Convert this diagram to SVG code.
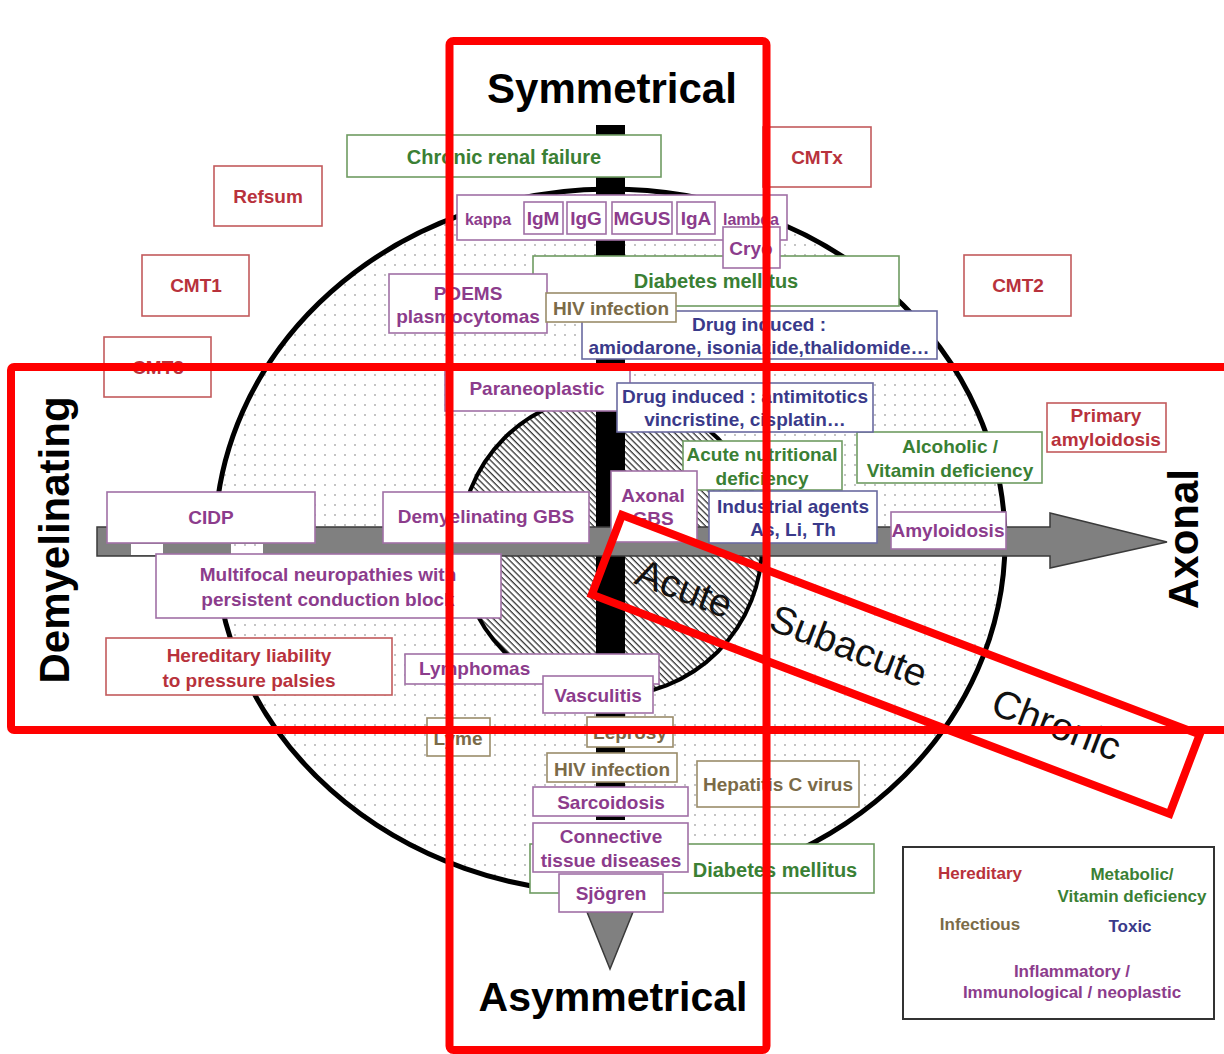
<svg xmlns="http://www.w3.org/2000/svg" width="1224" height="1054" viewBox="0 0 1224 1054">
<defs>
<pattern id="dots" patternUnits="userSpaceOnUse" width="10" height="10">
<circle cx="5" cy="5" r="0.9" fill="#a8a8a8"/>
</pattern>
<pattern id="hatch" patternUnits="userSpaceOnUse" width="4.4" height="4.4" patternTransform="rotate(45)">
<rect x="0" y="0" width="4.4" height="1.3" fill="#333"/>
</pattern>
<style>
text{font-family:"Liberation Sans",Arial,sans-serif;font-weight:bold;text-anchor:middle}
.b{fill:#fff;stroke-width:1.6}
.her rect{stroke:#c25a5c}.her text{fill:#b8323c}
.met rect{stroke:#6f9c62}.met text{fill:#3a8034}
.inf rect{stroke:#9a8c6a}.inf text{fill:#7b6b48}
.tox rect{stroke:#6a6aa0}.tox text{fill:#3a3a8a}
.inm rect{stroke:#a070a6}.inm text{fill:#8c3c8c}
.f19{font-size:19px}.f20{font-size:20px}.f17{font-size:17px}
.big{font-size:42px;fill:#000}
.phase{font-weight:normal;font-size:39px;fill:#111;text-anchor:start}
.red{fill:none;stroke:#ff0000;stroke-width:8}
</style>
</defs>
<rect width="1224" height="1054" fill="#fff"/>
<g id="background">
<ellipse cx="610" cy="541" rx="395" ry="352" fill="#fff"/>
<ellipse cx="610" cy="541" rx="395" ry="352" fill="url(#dots)" stroke="#000" stroke-width="5"/>
<circle cx="611" cy="545" r="151" fill="#fff"/>
<circle cx="611" cy="545" r="151" fill="url(#hatch)" stroke="#000" stroke-width="4"/>
</g>
<g id="connectors">
<rect x="596" y="125" width="29" height="695" fill="#000"/>
<polygon points="97,527 1050,527 1050,513 1167,542 1050,568 1050,556 97,556" fill="#808080" stroke="#3a3a3a" stroke-width="1.5"/>
<polygon points="587,912 633,912 610,969" fill="#808080" stroke="#3a3a3a" stroke-width="1.5"/>
<rect x="131" y="544" width="32" height="11" fill="#fff"/>
<rect x="231" y="544" width="32" height="11" fill="#fff"/>
<rect x="231" y="544" width="32" height="11" fill="url(#dots)"/>
</g>
<g id="axes-labels">
<text class="big" x="612" y="103">Symmetrical</text>
<text class="big" x="613" y="1011" style="font-size:41px">Asymmetrical</text>
<text class="big" transform="translate(69,540) rotate(-90)">Demyelinating</text>
<text class="big" transform="translate(1198,539) rotate(-90)">Axonal</text>
</g>
<g id="n-diabetes-top" class="met"><rect class="b" x="533" y="256" width="366" height="50"/><text class="f20" x="716" y="288">Diabetes mellitus</text></g>
<g id="n-diabetes-bottom" class="met"><rect class="b" x="530" y="844" width="344" height="49"/><text class="f20" x="775" y="877">Diabetes mellitus</text></g>
<g id="n-refsum" class="her"><rect class="b" x="214" y="166" width="108" height="60"/><text class="f19" x="268" y="203">Refsum</text></g>
<g id="n-cmt1" class="her"><rect class="b" x="142" y="255" width="107" height="61"/><text class="f19" x="196" y="292">CMT1</text></g>
<g id="n-cmt3" class="her"><rect class="b" x="104" y="337" width="107" height="60"/><text class="f19" x="158" y="374">CMT3</text></g>
<g id="n-cmtx" class="her"><rect class="b" x="763" y="127" width="108" height="60"/><text class="f19" x="817" y="164">CMTx</text></g>
<g id="n-cmt2" class="her"><rect class="b" x="964" y="255" width="107" height="61"/><text class="f19" x="1018" y="292">CMT2</text></g>
<g id="n-primary-amyloidosis" class="her"><rect class="b" x="1047" y="403" width="119" height="49"/><text class="f19" x="1106" y="422">Primary</text><text class="f19" x="1106" y="446">amyloidosis</text></g>
<g id="n-hnpp" class="her"><rect class="b" x="106" y="638" width="286" height="57"/><text class="f19" x="249" y="662">Hereditary liability</text><text class="f19" x="249" y="687">to pressure palsies</text></g>
<g id="n-renal" class="met"><rect class="b" x="347" y="135" width="314" height="42"/><text class="f20" x="504" y="164">Chronic renal failure</text></g>
<g id="n-nutritional" class="met"><rect class="b" x="683" y="441" width="159" height="49"/><text class="f19" x="762" y="461">Acute nutritional</text><text class="f19" x="762" y="485">deficiency</text></g>
<g id="n-alcoholic" class="met"><rect class="b" x="857" y="432" width="185" height="51"/><text class="f19" x="950" y="453">Alcoholic /</text><text class="f19" x="950" y="477">Vitamin deficiency</text></g>
<g id="n-kappa" class="inm">
<rect class="b" x="457" y="195" width="330" height="45"/>
<rect class="b" x="524" y="202" width="39" height="32"/>
<rect class="b" x="567" y="202" width="39" height="32"/>
<rect class="b" x="612" y="202" width="60" height="32"/>
<rect class="b" x="677" y="202" width="38" height="32"/>
<text class="f17" x="488" y="225" style="font-size:16px">kappa</text>
<text class="f19" x="543" y="225">IgM</text>
<text class="f19" x="586" y="225">IgG</text>
<text class="f19" x="642" y="225">MGUS</text>
<text class="f19" x="696" y="225">IgA</text>
<text class="f17" x="751" y="225" style="font-size:16px">lambda</text>
</g>
<g id="n-cryo" class="inm"><rect class="b" x="723" y="227" width="57" height="41"/><text class="f19" x="751" y="255">Cryo</text></g>
<g id="n-poems" class="inm"><rect class="b" x="389" y="274" width="158" height="59"/><text class="f19" x="468" y="300">POEMS</text><text class="f19" x="468" y="323">plasmocytomas</text></g>
<g id="n-drug-amio" class="tox"><rect class="b" x="582" y="311" width="355" height="48"/><text class="f19" x="759" y="331">Drug induced :</text><text class="f19" x="759" y="354">amiodarone, isoniazide,thalidomide…</text></g>
<g id="n-hiv-top" class="inf"><rect class="b" x="546" y="293" width="130" height="29"/><text class="f19" x="611" y="315">HIV infection</text></g>
<g id="n-paraneoplastic" class="inm"><rect class="b" x="445" y="369" width="185" height="42"/><text class="f19" x="537" y="395">Paraneoplastic</text></g>
<g id="n-drug-antimitotics" class="tox"><rect class="b" x="617" y="383" width="256" height="49"/><text class="f19" x="745" y="403">Drug induced : antimitotics</text><text class="f19" x="745" y="426">vincristine, cisplatin…</text></g>
<g id="n-axonal-gbs" class="inm"><rect class="b" x="611" y="471" width="86" height="71"/><text class="f19" x="653" y="502">Axonal</text><text class="f19" x="653" y="525">GBS</text></g>
<g id="n-industrial" class="tox"><rect class="b" x="709" y="491" width="168" height="52"/><text class="f19" x="793" y="513">Industrial agents</text><text class="f19" x="793" y="536">As, Li, Th</text></g>
<g id="n-cidp" class="inm"><rect class="b" x="107" y="492" width="208" height="51"/><text class="f19" x="211" y="524">CIDP</text></g>
<g id="n-demyel-gbs" class="inm"><rect class="b" x="383" y="492" width="206" height="51"/><text class="f19" x="486" y="523">Demyelinating GBS</text></g>
<g id="n-amyloidosis" class="inm"><rect class="b" x="891" y="512" width="115" height="37"/><text class="f19" x="948" y="537">Amyloidosis</text></g>
<g id="n-multifocal" class="inm"><rect class="b" x="156" y="554" width="345" height="64"/><text class="f19" x="328" y="581">Multifocal neuropathies with</text><text class="f19" x="328" y="606">persistent conduction block</text></g>
<g id="n-lymphomas" class="inm"><rect class="b" x="405" y="654" width="254" height="30"/><text class="f19" x="419" y="675" style="text-anchor:start">Lymphomas</text></g>
<g id="n-vasculitis" class="inm"><rect class="b" x="543" y="676" width="110" height="37"/><text class="f19" x="598" y="702">Vasculitis</text></g>
<g id="n-lyme" class="inf"><rect class="b" x="427" y="718" width="63" height="38"/><text class="f19" x="458" y="745">Lyme</text></g>
<g id="n-leprosy" class="inf"><rect class="b" x="587" y="717" width="86" height="30"/><text class="f19" x="630" y="739">Leprosy</text></g>
<g id="n-hiv-bottom" class="inf"><rect class="b" x="547" y="753" width="130" height="29"/><text class="f19" x="612" y="776">HIV infection</text></g>
<g id="n-hepatitis" class="inf"><rect class="b" x="697" y="761" width="162" height="46"/><text class="f19" x="778" y="791">Hepatitis C virus</text></g>
<g id="n-sarcoidosis" class="inm"><rect class="b" x="533" y="787" width="155" height="29"/><text class="f19" x="611" y="809">Sarcoidosis</text></g>
<g id="n-connective" class="inm"><rect class="b" x="533" y="823" width="155" height="49"/><text class="f19" x="611" y="843">Connective</text><text class="f19" x="611" y="867">tissue diseases</text></g>
<g id="n-sjogren" class="inm"><rect class="b" x="559" y="874" width="104" height="38"/><text class="f19" x="611" y="900">Sjögren</text></g>
<g id="phases">
<text class="phase" transform="translate(633,583) rotate(21)">Acute</text>
<text class="phase" transform="translate(767,629) rotate(21)">Subacute</text>
<text class="phase" transform="translate(989,713) rotate(21)">Chronic</text>
</g>
<g id="legend">
<rect x="903" y="847" width="311" height="172" fill="#fff" stroke="#333" stroke-width="2"/>
<text class="f17" x="980" y="879" fill="#b8323c">Hereditary</text>
<text class="f17" x="1132" y="880" fill="#3a8034">Metabolic/</text>
<text class="f17" x="1132" y="902" fill="#3a8034">Vitamin deficiency</text>
<text class="f17" x="980" y="930" fill="#7b6b48">Infectious</text>
<text class="f17" x="1130" y="932" fill="#3a3a8a">Toxic</text>
<text class="f17" x="1072" y="977" fill="#8c3c8c">Inflammatory /</text>
<text class="f17" x="1072" y="998" fill="#8c3c8c">Immunological / neoplastic</text>
</g>
<g id="overlay">
<rect class="red" x="449.5" y="41" width="317" height="1009" rx="4"/>
<rect class="red" x="11" y="367" width="1240" height="363" rx="3"/>
<rect class="red" x="0" y="0" width="618" height="85" transform="translate(622,515) rotate(20.8)"/>
</g>
</svg>
